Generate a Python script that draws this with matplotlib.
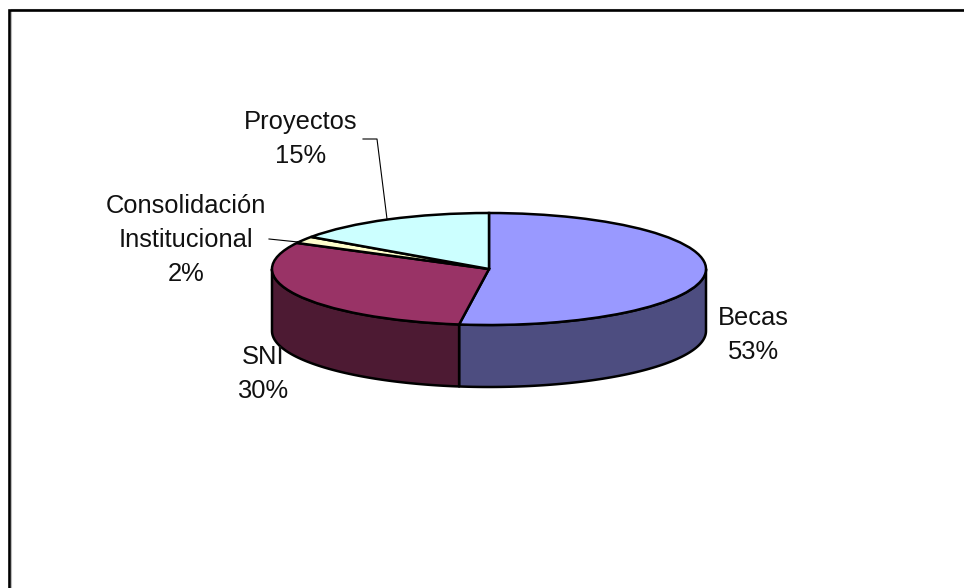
import numpy as np
import matplotlib
matplotlib.use("Agg")
import matplotlib.pyplot as plt

# datos del pastel
categorias = ["Becas", "SNI", "Consolidación\nInstitucional", "Proyectos"]
porcentajes = ["53%", "30%", "2%", "15%"]
valores = [52.2, 30.5, 2.0, 15.3]
colores = ["#9999FF", "#993366", "#FFFFCC", "#CCFFFF"]
colores_lado = ["#4D4D80", "#4D1A33", "#80805F", "#668080"]

plt.rcParams["font.family"] = ["Liberation Sans", "DejaVu Sans"]

W, H = 964, 588
cx, cy, rx, ry, prof = 489, 269, 217, 56, 62


def px(x, y):
    # pixel de la imagen -> unidades del pastel
    return (x - cx) / rx, (cy - y) / ry


fig = plt.figure(figsize=(W / 100, H / 100), dpi=100)
ax = fig.add_axes([0, 0, 1, 1])

# pared lateral: solo la parte frontal de cada sector
h = prof / ry
fin = np.cumsum(valores) / np.sum(valores) * 2 * np.pi
ini = np.r_[0, fin[:-1]]
for a0, a1, c in zip(ini, fin, colores_lado):
    a0, a1 = max(a0, np.pi / 2), min(a1, 3 * np.pi / 2)
    if a1 <= a0:
        continue
    t = np.linspace(a0, a1, 80)
    xs, ys = np.sin(t), np.cos(t)
    ax.fill(np.r_[xs, xs[::-1]], np.r_[ys, ys[::-1] - h],
            facecolor=c, edgecolor="black", linewidth=1.8, joinstyle="round")

# cara superior
ax.pie(valores, colors=colores, startangle=90, counterclock=False, radius=1,
       wedgeprops={"edgecolor": "black", "linewidth": 1.8})

ax.set_aspect("auto")
ax.set_xlim(-cx / rx, (W - cx) / rx)
ax.set_ylim((cy - H) / ry, cy / ry)
ax.axis("off")

# lineas guia
for xp, yp in [([363, 377, 387], [139, 139, 219]), ([269, 298], [239, 242])]:
    xd, yd = px(np.array(xp), np.array(yp))
    ax.plot(xd, yd, color="black", linewidth=0.8)

# marco (solo arriba e izquierda se ven en la imagen)
xd, yd = px(np.array([10.8, 10.8, W]), np.array([H, 8.5, 8.5]))
ax.plot(xd, yd, color="#BBBBBB", linewidth=0.8, clip_on=False)
xd, yd = px(np.array([9, 9, W]), np.array([H, 10, 10]))
ax.plot(xd, yd, color="black", linewidth=1.9, solid_joinstyle="miter", clip_on=False)

# etiquetas
pos = [(753, 335), (263, 374), (186, 240), (301, 139)]
for cat, pct, (xp, yp) in zip(categorias, porcentajes, pos):
    xd, yd = px(xp, yp)
    ax.text(xd, yd, cat + "\n" + pct, ha="center", va="center", fontsize=18.4,
            color="#111111", linespacing=1.55)

fig.savefig("out.png", dpi=100)
